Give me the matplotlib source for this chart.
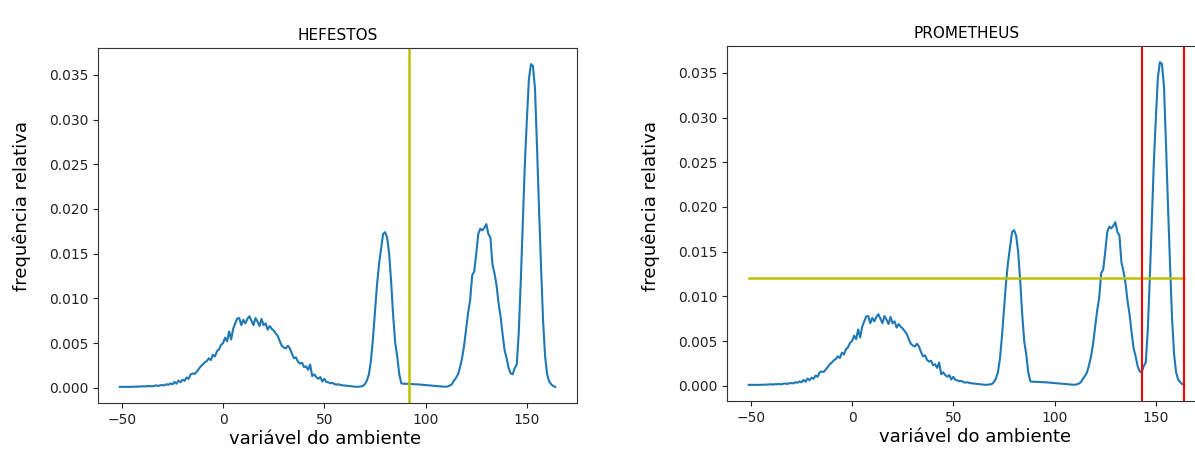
import matplotlib
matplotlib.use("Agg")
import matplotlib.pyplot as plt

# Environment variable grid (bin centres) and relative frequency per bin
variavel = list(range(-51, 165))
frequencia = [
    # -51 .. -41
    0.00010, 0.00010, 0.00010, 0.00010, 0.00010, 0.00011, 0.00010, 0.00012, 0.00013, 0.00012, 0.00015,
    # -40 .. -31
    0.00016, 0.00014, 0.00018, 0.00017, 0.00020, 0.00015, 0.00022, 0.00026, 0.00020, 0.00028,
    # -30 .. -21
    0.00030, 0.00026, 0.00040, 0.00033, 0.00048, 0.00038, 0.00065, 0.00045, 0.00080, 0.00062,
    # -20 .. -11
    0.00090, 0.00078, 0.00115, 0.00100, 0.00150, 0.00160, 0.00155, 0.00180, 0.00210, 0.00240,
    # -10 .. -1
    0.00260, 0.00285, 0.00300, 0.00330, 0.00310, 0.00370, 0.00350, 0.00410, 0.00430, 0.00480,
    # 0 .. 9
    0.00500, 0.00560, 0.00520, 0.00630, 0.00540, 0.00660, 0.00720, 0.00775, 0.00780, 0.00700,
    # 10 .. 19
    0.00760, 0.00720, 0.00770, 0.00800, 0.00750, 0.00700, 0.00780, 0.00740, 0.00690, 0.00770,
    # 20 .. 29
    0.00700, 0.00720, 0.00650, 0.00690, 0.00660, 0.00640, 0.00610, 0.00580, 0.00520, 0.00470,
    # 30 .. 39
    0.00450, 0.00440, 0.00470, 0.00440, 0.00380, 0.00330, 0.00340, 0.00290, 0.00270, 0.00280,
    # 40 .. 49
    0.00230, 0.00240, 0.00200, 0.00260, 0.00130, 0.00150, 0.00120, 0.00100, 0.00120, 0.00070,
    # 50 .. 59
    0.00100, 0.00065, 0.00060, 0.00050, 0.00055, 0.00040, 0.00035, 0.00040, 0.00030, 0.00028,
    # 60 .. 69
    0.00025, 0.00022, 0.00020, 0.00018, 0.00015, 0.00012, 0.00010, 0.00012, 0.00015, 0.00020,
    # 70 .. 79
    0.00040, 0.00080, 0.00150, 0.00300, 0.00550, 0.00850, 0.01150, 0.01380, 0.01550, 0.01720,
    # 80 .. 89
    0.01740, 0.01680, 0.01500, 0.01180, 0.00800, 0.00500, 0.00350, 0.00150, 0.00050, 0.00045,
    # 90 .. 99
    0.00045, 0.00044, 0.00043, 0.00042, 0.00040, 0.00040, 0.00038, 0.00036, 0.00035, 0.00033,
    # 100 .. 109
    0.00030, 0.00028, 0.00026, 0.00024, 0.00022, 0.00020, 0.00018, 0.00016, 0.00014, 0.00012,
    # 110 .. 119
    0.00012, 0.00015, 0.00025, 0.00040, 0.00080, 0.00110, 0.00150, 0.00230, 0.00330, 0.00470,
    # 120 .. 129
    0.00660, 0.00840, 0.00980, 0.01260, 0.01300, 0.01500, 0.01720, 0.01780, 0.01760, 0.01790,
    # 130 .. 139
    0.01830, 0.01720, 0.01680, 0.01380, 0.01280, 0.01150, 0.00950, 0.00800, 0.00600, 0.00420,
    # 140 .. 149
    0.00330, 0.00220, 0.00160, 0.00150, 0.00220, 0.00260, 0.00620, 0.01200, 0.01850, 0.02500,
    # 150 .. 159
    0.03000, 0.03450, 0.03620, 0.03600, 0.03350, 0.02700, 0.02000, 0.01350, 0.00750, 0.00350,
    # 160 .. 164
    0.00150, 0.00070, 0.00040, 0.00020, 0.00010,
]

# Threshold markers
limiar_hefestos = 92
limiar_prometheus = 0.0121
intervalo_prometheus = [143, 164]

titulos = ["HEFESTOS", "PROMETHEUS"]
rotulo_x = "variável do ambiente"
rotulo_y = "frequência relativa"

W, H = 1195, 455
fig = plt.figure(figsize=(W / 100, H / 100), dpi=100)


def px_axes(left, top, right, bottom):
    return fig.add_axes([left / W, 1 - bottom / H, (right - left) / W, (bottom - top) / H])


ax1 = px_axes(98, 48, 577, 403)
ax2 = px_axes(727, 46, 1206, 401)

# label anchor positions (axes fraction) for each panel
xlabel_pos = [(0.474, -0.075), (0.518, -0.075)]
ylabel_pos = [(-0.140, 0.555), (-0.140, 0.549)]

for ax, titulo, xp, yp in zip((ax1, ax2), titulos, xlabel_pos, ylabel_pos):
    ax.plot(variavel, frequencia, color="#1f77b4", lw=1.5)
    ax.set_title(titulo, fontsize=11)
    ax.set_xlabel(rotulo_x, fontsize=13)
    ax.set_ylabel(rotulo_y, fontsize=13)
    ax.xaxis.set_label_coords(*xp)
    ax.yaxis.set_label_coords(*yp)
    ax.set_xticks([-50, 0, 50, 100, 150])
    ax.set_yticks([0.000, 0.005, 0.010, 0.015, 0.020, 0.025, 0.030, 0.035])
    ax.tick_params(labelsize=10, colors="#222222")
    for s in ax.spines.values():
        s.set_color("#333333")

# HEFESTOS: single vertical cut
ax1.axvline(limiar_hefestos, color="y", lw=1.8)

# PROMETHEUS: horizontal level over the data range plus an interval
ax2.plot([variavel[0], variavel[-1]], [limiar_prometheus, limiar_prometheus], color="y", lw=1.8)
for xv in intervalo_prometheus:
    ax2.axvline(xv, color="r", lw=1.5)

fig.savefig("out.png", dpi=100)
